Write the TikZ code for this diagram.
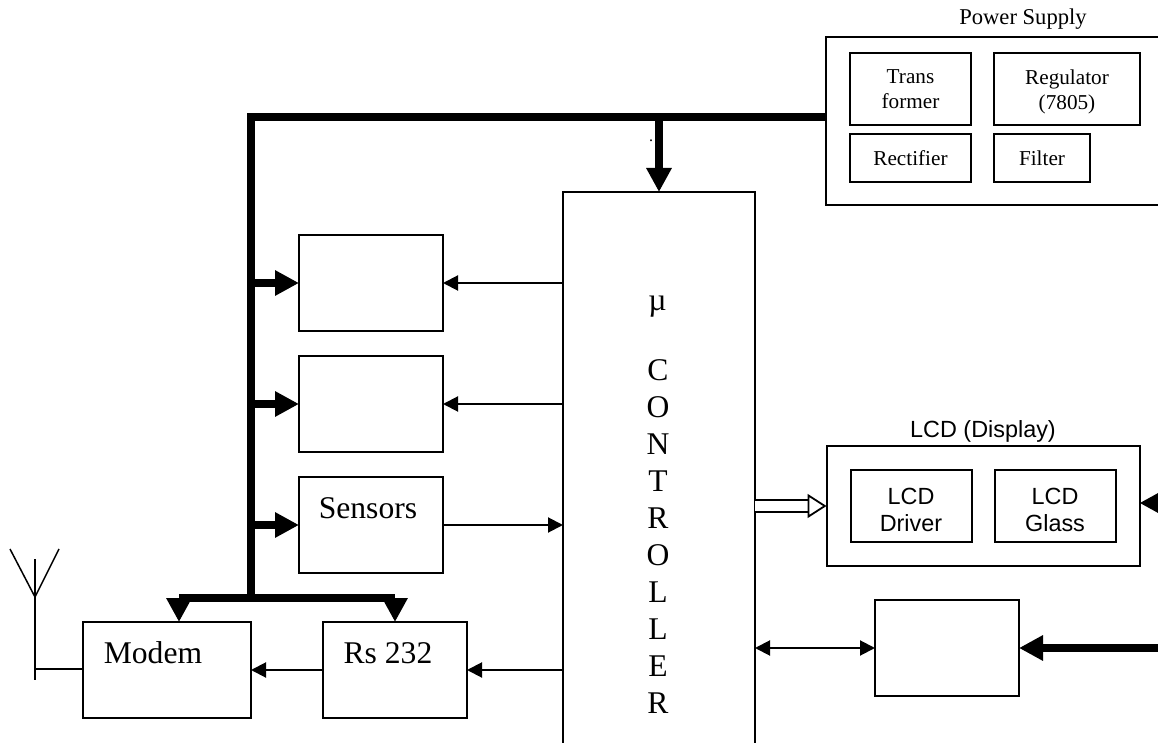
\documentclass[tikz,border=0pt]{standalone}
\usepackage{fontspec}
\setmainfont{Liberation Serif}
\newfontfamily\lcdfont{Liberation Sans}
\usetikzlibrary{arrows.meta}
\begin{document}
\begin{tikzpicture}[
  x=0.5pt,y=-0.5pt,
  blockbox/.style={draw,line width=1pt,outer sep=0pt,inner sep=0pt,align=center},
  smalltext/.style={font=\fontsize{10.6}{12.5}\selectfont},
  lcdtext/.style={font=\lcdfont\fontsize{11.7}{13.5}\selectfont},
  bigtext/.style={inner sep=0pt,font=\fontsize{15.8}{18.5}\selectfont},
  thinflow/.style={line width=1pt,-{Triangle[length=7.5pt,width=7.5pt]}},
  bothflow/.style={line width=1pt,{Triangle[length=7.5pt,width=7.5pt]}-{Triangle[length=7.5pt,width=7.5pt]}},
  buswire/.style={line width=4pt},
  busflow/.style={line width=4pt,-{Triangle[length=12pt,width=12pt]}},
  hollowflow/.style={line width=0.9pt,double,double distance=5pt,-{Triangle[open,fill=white,length=9.5pt,width=12pt,line width=0.9pt]}},
  antennawire/.style={line width=0.75pt}]
\useasboundingbox (0,0) rectangle (1158,743);
\clip (0,0) rectangle (1158,743);

\node[blockbox,minimum width=176pt,minimum height=84pt] (power) at (1002,121) {};
\node[blockbox,smalltext,minimum width=60.5pt,minimum height=36pt] (trans) at (910.5,89) {Trans\\former};
\node[blockbox,smalltext,minimum width=73pt,minimum height=36pt,text height=23.1pt] (regulator) at (1067,89) {Regulator\\(7805)};
\node[blockbox,smalltext,minimum width=60.5pt,minimum height=24pt] (rectifier) at (910.5,158) {Rectifier};
\node[blockbox,smalltext,minimum width=48pt,minimum height=24pt] (filter) at (1042,158) {Filter};
\node[inner sep=0pt,font=\fontsize{11.3}{13}\selectfont] (powerlabel) at (1023,19) {Power Supply};

\node[blockbox,minimum width=96pt,minimum height=304pt] (ctrl) at (659,496) {};
\node[bigtext] (mutext) at (657.5,307) {µ};
\node[bigtext,align=center] (ctrltext) at (658,536.5) {C\\O\\N\\T\\R\\O\\L\\L\\E\\R};

\node[blockbox,minimum width=72pt,minimum height=48pt] (boxa) at (371,283) {};
\node[blockbox,minimum width=72pt,minimum height=48pt] (boxb) at (371,404) {};
\node[blockbox,minimum width=72pt,minimum height=48pt] (sensors) at (371,525) {};
\node[bigtext] (sensorstext) at (368,508) {Sensors};
\node[blockbox,minimum width=84pt,minimum height=48pt] (modem) at (167,670) {};
\node[bigtext] (modemtext) at (153,653) {Modem};
\node[blockbox,minimum width=72pt,minimum height=48pt] (rs) at (395,670) {};
\node[bigtext] (rstext) at (388,653) {Rs 232};

\node[blockbox,minimum width=156.5pt,minimum height=60pt] (lcd) at (983,506) {};
\node[blockbox,lcdtext,minimum width=60.5pt,minimum height=36pt,text height=25.4pt] (driver) at (911,506) {LCD\\Driver};
\node[blockbox,lcdtext,minimum width=60.5pt,minimum height=36pt,text height=25.4pt] (glass) at (1055,506) {LCD\\Glass};
\node[lcdtext,inner sep=0pt] (lcdlabel) at (983,431) {LCD (Display)};
\node[blockbox,minimum width=72pt,minimum height=48pt] (drive) at (947,648) {};
\node[inner sep=0pt,font=\fontsize{8}{8}\selectfont] (dot) at (651,141) {.};

\coordinate (busTop) at (251,117);
\coordinate (busFoot) at (251,598);
\coordinate (busCtrl) at (659,117);
\coordinate (modemDrop) at (179,598);
\coordinate (rsDrop) at (395,598);
\coordinate (lcdIn) at (1170,503);
\coordinate (driveIn) at (1170,648);
\coordinate (antApex) at (35,597);
\coordinate (antLeft) at (10,549);
\coordinate (antRight) at (59,549);
\coordinate (antTop) at (35,559);
\coordinate (antFoot) at (35,680);
\coordinate (antJoin) at (35,669);

\draw[buswire] (power.west |- busTop) -- (busTop) -- (busFoot);
\draw[buswire] (modemDrop) -- (rsDrop);
\draw[busflow] (busCtrl) -- (ctrl.north -| busCtrl);
\draw[busflow] (modemDrop) -- (modemDrop |- modem.north);
\draw[busflow] (rsDrop) -- (rs.north);
\foreach \target in {boxa,boxb,sensors}
  \draw[busflow] (busTop |- \target) -- (\target.west);
\draw[thinflow] (ctrl.west |- boxa) -- (boxa.east);
\draw[thinflow] (ctrl.west |- boxb) -- (boxb.east);
\draw[thinflow] (sensors.east) -- (ctrl.west |- sensors);
\draw[thinflow] (ctrl.west |- rs) -- (rs.east);
\draw[thinflow] (rs.west) -- (modem.east |- rs);
\draw[bothflow] (ctrl.east |- drive) -- (drive.west);
\draw[busflow] (driveIn) -- (drive.east);
\draw[busflow] (lcdIn) -- (lcd.east |- lcdIn);
\draw[hollowflow] (ctrl.east |- lcd) -- (lcd.west);

\draw[antennawire] (antLeft) -- (antApex) -- (antRight);
\draw[antennawire] (antTop) -- (antFoot);
\draw[antennawire] (antJoin) -- (modem.west |- antJoin);
\end{tikzpicture}
\end{document}
